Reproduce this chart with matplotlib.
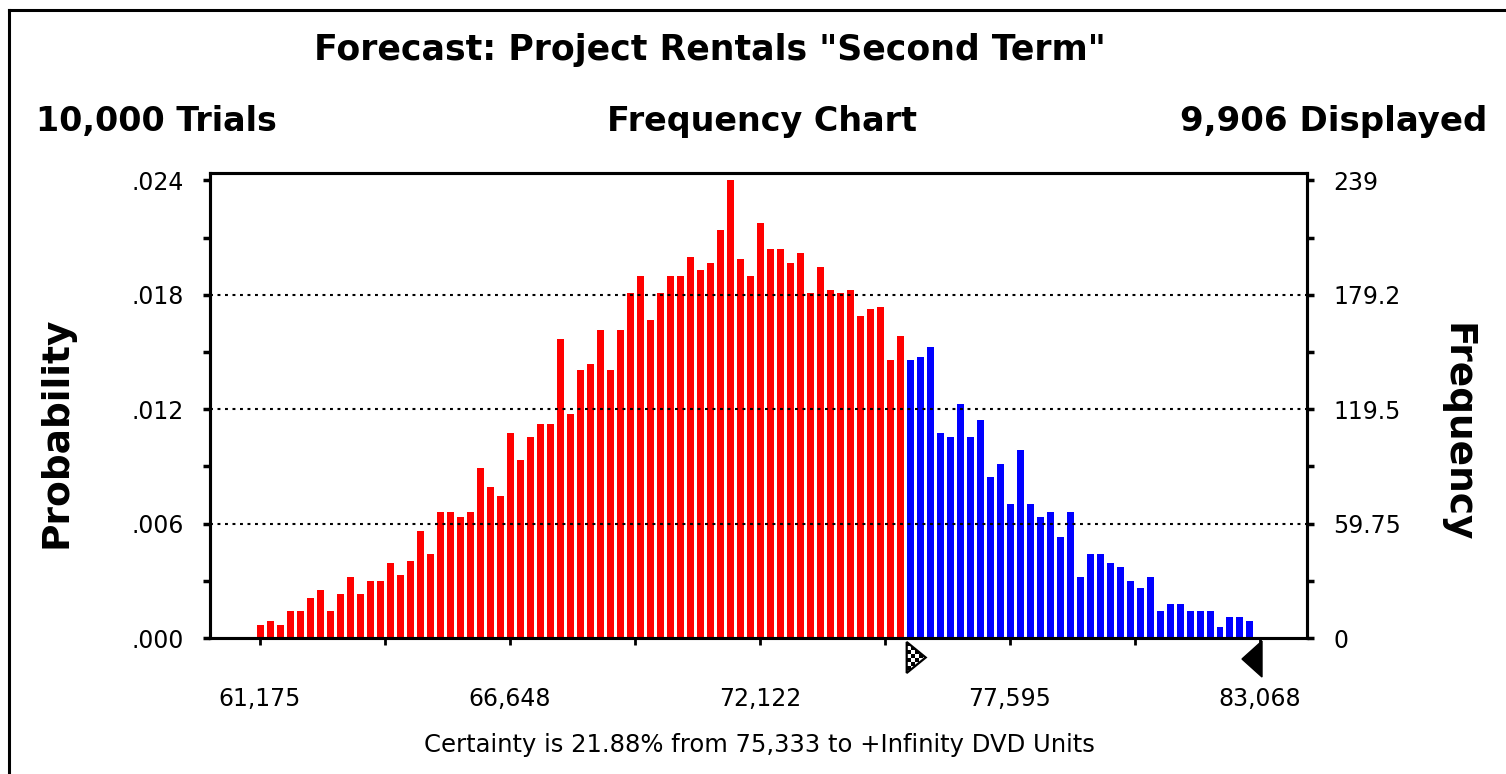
import matplotlib
matplotlib.use("Agg")
import matplotlib.pyplot as plt
import matplotlib.transforms as mtransforms
from matplotlib.patches import Polygon, Rectangle
from matplotlib.lines import Line2D

plt.rcParams['font.family'] = ['DejaVu Sans']

# ---------------- data ----------------
bin_start = 61175
bin_width = 218.93
cutoff = 75333
upper_marker = 83068
counts = [7, 9, 7, 14, 14, 21, 25, 14, 23, 32, 23, 30, 30, 39, 33, 40, 56, 44, 66, 66,
          63, 66, 89, 79, 74, 107, 93, 105, 112, 112, 156, 117, 140, 143, 161, 140, 161, 180, 189, 166,
          180, 189, 189, 199, 192, 196, 213, 239, 198, 189, 217, 203, 203, 196, 201, 180, 194, 182, 180, 182,
          168, 172, 173, 145, 158, 145, 147, 152, 107, 105, 122, 105, 114, 84, 91, 70, 98, 70, 63, 66,
          53, 66, 32, 44, 44, 39, 37, 30, 26, 32, 14, 18, 18, 14, 14, 14, 6, 11, 11, 9]
x_ticks = [61175, 66648, 72122, 77595, 83068]
x_tick_labels = ["61,175", "66,648", "72,122", "77,595", "83,068"]
freq_ticks = [0, 59.75, 119.5, 179.25, 239]
freq_labels = ["0", "59.75", "119.5", "179.2", "239"]
prob_labels = [".000", ".006", ".012", ".018", ".024"]

title = 'Forecast: Project Rentals "Second Term"'
trials_text = "10,000 Trials"
chart_text = "Frequency Chart"
displayed_text = "9,906 Displayed"
certainty_text = "Certainty is 21.88% from 75,333 to +Infinity DVD Units"

# ---------------- figure ----------------
W, H = 1506, 774
fig = plt.figure(figsize=(W / 100, H / 100), dpi=100)
fig.patch.set_facecolor("white")

def fx(px):
    return px / W

def fy(py):
    return 1 - py / H

# outer frame (left and top lines)
fig.add_artist(Line2D([fx(9), fx(9)], [fy(10), 0], color="black", lw=2.2, transform=fig.transFigure))
fig.add_artist(Line2D([fx(9), 1], [fy(10), fy(10)], color="black", lw=2.2, transform=fig.transFigure))

ax = fig.add_axes([fx(210), fy(638), fx(1307) - fx(210), fy(173) - fy(638)])
ax.set_xlim(60080, 84097)
ax.set_ylim(0, 242.9)

centers = [bin_start + i * bin_width for i in range(len(counts))]
colors = ["#ff0000" if c < cutoff else "#0000ff" for c in centers]
ax.bar(centers, counts, width=bin_width * 0.7, color=colors, zorder=2, linewidth=0)

# dotted grid
for v in freq_ticks[1:-1]:
    ax.axhline(v, color="black", lw=1.5, linestyle=(0, (1.4, 2.2)), zorder=3)

for s in ax.spines.values():
    s.set_linewidth(2.2)
    s.set_zorder(4)

# x axis ticks
ax.set_xticks(x_ticks)
ax.set_xticklabels(x_tick_labels, fontsize=17)
minor_x = [(x_ticks[i] + x_ticks[i + 1]) / 2 for i in range(len(x_ticks) - 1)]
ax.set_xticks(minor_x, minor=True)
ax.tick_params(axis="x", which="both", direction="out", length=5, width=2, pad=30)

# left probability axis
ax.set_yticks(freq_ticks)
ax.set_yticklabels(prob_labels, fontsize=17)
minor_y = [(freq_ticks[i] + freq_ticks[i + 1]) / 2 for i in range(len(freq_ticks) - 1)]
ax.set_yticks(minor_y, minor=True)
ax.tick_params(axis="y", which="both", direction="out", length=5, width=2.5, pad=14)

# right frequency axis
ax2 = ax.twinx()
ax2.set_ylim(ax.get_ylim())
ax2.set_yticks(freq_ticks)
ax2.set_yticklabels(freq_labels, fontsize=17)
ax2.set_yticks(minor_y, minor=True)
ax2.tick_params(axis="y", which="both", direction="out", length=5, width=2.5, pad=14)
for s in ax2.spines.values():
    s.set_linewidth(2.2)

# axis titles
fig.text(fx(57), fy(432), "Probability", rotation=90, ha="center", va="center",
         fontsize=27, fontweight="bold")
fig.text(fx(1457), fy(433), "Frequency", rotation=-90, ha="center", va="center",
         fontsize=27, fontweight="bold")

# header texts
fig.text(fx(710), fy(50), title, ha="center", va="center", fontsize=25, fontweight="bold")
fig.text(fx(36), fy(122), trials_text, ha="left", va="center", fontsize=24, fontweight="bold")
fig.text(fx(762), fy(122), chart_text, ha="center", va="center", fontsize=24, fontweight="bold")
fig.text(fx(1487), fy(122), displayed_text, ha="right", va="center", fontsize=24.5, fontweight="bold")
fig.text(fx(759), fy(745), certainty_text, ha="center", va="center", fontsize=17.5)

# markers below the axis
def marker_transform(xval):
    return fig.dpi_scale_trans + mtransforms.ScaledTranslation(xval, 0, ax.transData)

# checkered right-pointing triangle at cutoff (units: inches relative to (cutoff, 0))
t1 = marker_transform(cutoff)
tri1 = Polygon([[0.0, -0.04], [0.0, -0.35], [0.19, -0.195]], closed=True,
               facecolor="white", edgecolor="black", lw=1.6, transform=t1, clip_on=False, zorder=5)
fig.add_artist(tri1)
sq = 0.04
for i in range(6):
    for j in range(10):
        if (i + j) % 2 == 0:
            r = Rectangle((i * sq, -0.04 - (j + 1) * sq), sq, sq, facecolor="black", lw=0,
                          transform=t1, zorder=5)
            r.set_clip_path(tri1)
            fig.add_artist(r)

# solid left-pointing triangle at upper end
t2 = marker_transform(upper_marker)
tri2 = Polygon([[0.02, -0.03], [0.02, -0.39], [-0.18, -0.21]], closed=True,
               facecolor="black", edgecolor="black", lw=1.0, transform=t2, zorder=5)
fig.add_artist(tri2)

fig.savefig("out.png", dpi=100, facecolor="white")
